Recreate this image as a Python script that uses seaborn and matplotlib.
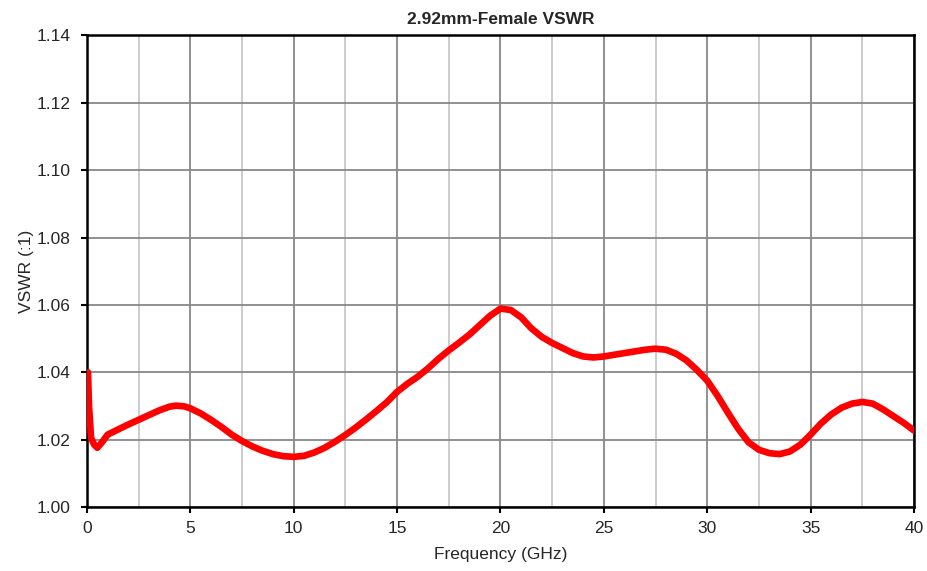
import numpy as np
import pandas as pd
import seaborn as sns
import matplotlib.pyplot as plt
from matplotlib.ticker import MultipleLocator

# values
freq_ghz = [0.05, 0.1, 0.2, 0.35, 0.5, 0.7, 1.0, 1.5, 2.0, 2.5, 3.0, 3.5, 4.0, 4.3,
            4.7, 5.0, 5.5, 6.0, 6.5, 7.0, 7.5, 8.0, 8.5, 9.0, 9.5, 10.0, 10.5,
            11.0, 11.5, 12.0, 12.5, 13.0, 13.5, 14.0, 14.5, 15.0, 15.5, 16.0,
            16.5, 17.0, 17.5, 18.0, 18.5, 19.0, 19.5, 20.0, 20.5, 21.0, 21.5,
            22.0, 22.5, 23.0, 23.5, 24.0, 24.5, 25.0, 25.5, 26.0, 26.5, 27.0,
            27.5, 28.0, 28.5, 29.0, 29.5, 30.0, 30.5, 31.0, 31.5, 32.0, 32.5,
            33.0, 33.5, 34.0, 34.5, 35.0, 35.5, 36.0, 36.5, 37.0, 37.5, 38.0,
            38.5, 39.0, 39.5, 40.0]
vswr = [1.0400, 1.0300, 1.0205, 1.0185, 1.0176, 1.0190, 1.0215, 1.0230, 1.0245,
        1.0259, 1.0273, 1.0287, 1.0298, 1.0301, 1.0299, 1.0293, 1.0278, 1.0259,
        1.0238, 1.0215, 1.0196, 1.0180, 1.0167, 1.0157, 1.0151, 1.0149, 1.0152,
        1.0162, 1.0176, 1.0194, 1.0214, 1.0236, 1.0260, 1.0285, 1.0311, 1.0342,
        1.0366, 1.0387, 1.0412, 1.0440, 1.0465, 1.0488, 1.0512, 1.0540, 1.0568,
        1.0589, 1.0585, 1.0563, 1.0530, 1.0505, 1.0487, 1.0472, 1.0457, 1.0447,
        1.0444, 1.0447, 1.0452, 1.0457, 1.0462, 1.0467, 1.0470, 1.0467, 1.0455,
        1.0435, 1.0407, 1.0375, 1.0330, 1.0280, 1.0232, 1.0192, 1.0170, 1.0160,
        1.0157, 1.0165, 1.0185, 1.0215, 1.0248, 1.0275, 1.0295, 1.0307, 1.0312,
        1.0307, 1.0290, 1.0270, 1.0250, 1.0227]

df = pd.DataFrame({'Frequency (GHz)': freq_ghz, 'VSWR (:1)': vswr})

sns.set_style('white')
plt.rcParams['font.family'] = ['Liberation Sans', 'DejaVu Sans']

fig = plt.figure(figsize=(9.27, 5.71), dpi=100)
ax = fig.add_axes([0.0938, 0.112, 0.8922, 0.826])

sns.lineplot(data=df, x='Frequency (GHz)', y='VSWR (:1)', ax=ax,
             color='#ff0000', linewidth=4.8, zorder=3,
             solid_capstyle='round', solid_joinstyle='round')

ax.set_xlim(0, 40)
ax.set_ylim(1.00, 1.14)
ax.xaxis.set_major_locator(MultipleLocator(5))
ax.xaxis.set_minor_locator(MultipleLocator(2.5))
ax.yaxis.set_major_locator(MultipleLocator(0.02))
ax.yaxis.set_major_formatter(plt.FormatStrFormatter('%.2f'))

ax.grid(which='minor', axis='x', color='#c8c8c8', linewidth=1.3)
ax.grid(which='major', axis='x', color='#888888', linewidth=1.3)
ax.grid(which='major', axis='y', color='#888888', linewidth=1.3)
ax.set_axisbelow(True)

for s in ax.spines.values():
    s.set_color('black')
    s.set_linewidth(1.8)

ax.tick_params(axis='both', which='major', direction='out', length=4, width=1.5,
               color='black', labelsize=12.5, left=True, bottom=True)
ax.tick_params(axis='y', which='major', pad=8)
ax.tick_params(axis='x', which='major', pad=6)
ax.tick_params(axis='x', which='minor', length=0)

ax.set_title('2.92mm-Female VSWR', fontsize=12.5, fontweight='bold', pad=8)
ax.set_xlabel('Frequency (GHz)', fontsize=12.5, labelpad=8)
ax.set_ylabel('VSWR (:1)', fontsize=12.5, labelpad=2)

plt.savefig('out.png', dpi=100)
